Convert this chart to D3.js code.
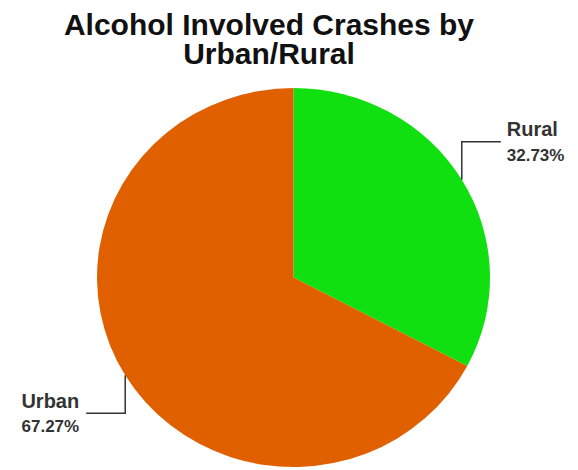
<!DOCTYPE html>
<html>
<head>
<meta charset="utf-8">
<script src="https://cdn.jsdelivr.net/npm/d3@7"></script>
<style>
  html, body { margin: 0; padding: 0; background: #fff; }
  svg { display: block; }
</style>
</head>
<body>
<svg id="chart" width="578" height="470"></svg>
<script>
const titleLines = ["Alcohol Involved Crashes by", "Urban/Rural"];
const categories = ["Rural", "Urban"];
const values = [32.73, 67.27];
const colors = ["#10e010", "#e06000"];

const W = 578, H = 470;
const cx = 293.5, cy = 277.5, rx = 196.5, ry = 189.5;
const svg = d3.select("#chart");

// Title
const title = svg.append("text")
  .attr("x", 269).attr("y", 35)
  .attr("text-anchor", "middle")
  .style("font-family", "'Liberation Sans', Arial, sans-serif")
  .style("font-weight", "bold")
  .style("font-size", "30px")
  .attr("fill", "#111");
titleLines.forEach((t, i) => {
  title.append("tspan").attr("x", 269).attr("dy", i === 0 ? 0 : 29).text(t);
});

const data = categories.map((c, i) => ({ name: c, value: values[i], color: colors[i] }));
const pie = d3.pie().sort(null).value(d => d.value).startAngle(0).endAngle(2 * Math.PI);
const arcs = pie(data);
const arc = d3.arc().innerRadius(0).outerRadius(rx);

const g = svg.append("g")
  .attr("transform", `translate(${cx},${cy}) scale(1,${ry / rx})`);
g.selectAll("path").data(arcs).enter().append("path")
  .attr("d", arc)
  .attr("fill", d => d.data.color);

// Leader lines + labels
const rise = 38, run = 39;
arcs.forEach(a => {
  const mid = (a.startAngle + a.endAngle) / 2;
  const ex = cx + Math.sin(mid) * rx;
  const ey = cy - Math.cos(mid) * ry;
  const right = Math.sin(mid) > 0;
  const up = Math.cos(mid) > 0;
  const ly = up ? ey - rise : ey + rise;
  const lx = right ? ex + run : ex - run;
  svg.append("path")
    .attr("d", `M${ex},${ey}V${ly}H${lx}`)
    .attr("fill", "none")
    .attr("stroke", "#333")
    .attr("stroke-width", 1.5);
  const tx = right ? lx + 6 : lx - 7;
  const anchor = right ? "start" : "end";
  svg.append("text")
    .attr("x", tx).attr("y", ly - 5.5)
    .attr("text-anchor", anchor)
    .style("font-family", "'Liberation Sans', Arial, sans-serif")
    .style("font-weight", "bold")
    .style("font-size", "20px")
    .attr("fill", "#333")
    .text(a.data.name);
  svg.append("text")
    .attr("x", tx).attr("y", ly + 19)
    .attr("text-anchor", anchor)
    .style("font-family", "'Liberation Sans', Arial, sans-serif")
    .style("font-weight", "bold")
    .style("font-size", "17px")
    .attr("fill", "#333")
    .text(a.data.value.toFixed(2) + "%");
});
</script>
</body>
</html>
